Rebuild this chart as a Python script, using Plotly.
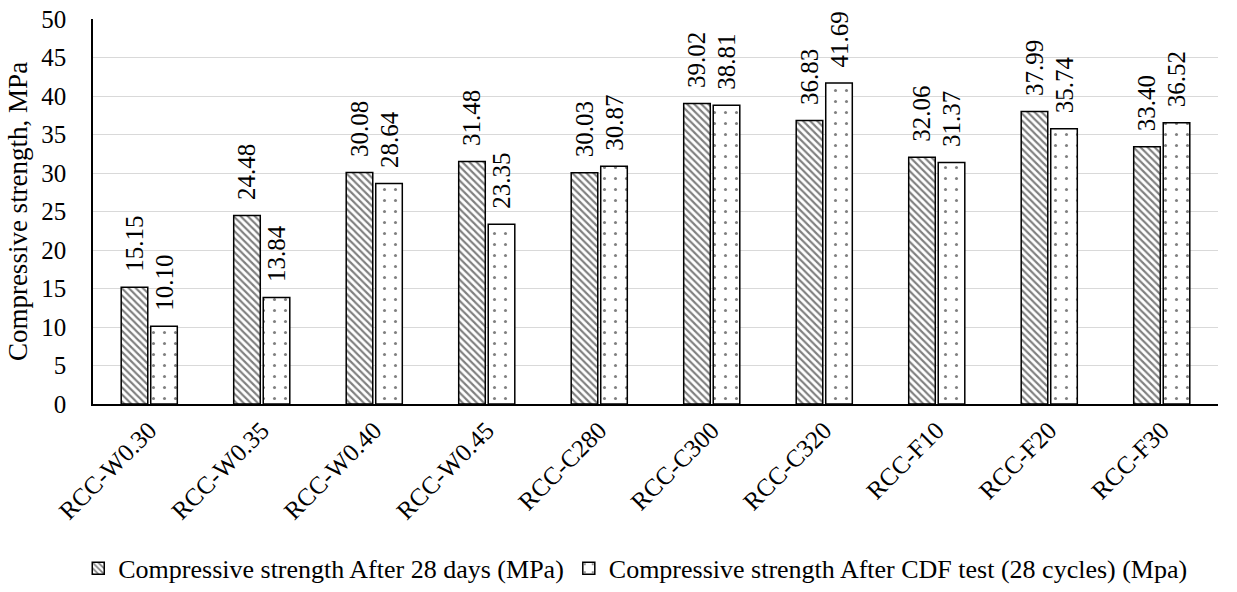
import plotly.graph_objects as go

categories = ["RCC-W0.30", "RCC-W0.35", "RCC-W0.40", "RCC-W0.45", "RCC-C280",
              "RCC-C300", "RCC-C320", "RCC-F10", "RCC-F20", "RCC-F30"]
after_28_days = [15.15, 24.48, 30.08, 31.48, 30.03, 39.02, 36.83, 32.06, 37.99, 33.40]
after_cdf = [10.10, 13.84, 28.64, 23.35, 30.87, 38.81, 41.69, 31.37, 35.74, 36.52]
y_ticks = list(range(0, 51, 5))

FONT = "Liberation Serif"
LABEL_PAD = "\u00a0\u00a0"  # small gap between bar top and its value label


def labels(values):
    return [LABEL_PAD + f"{v:.2f}" for v in values]


fig = go.Figure()
fig.add_trace(go.Bar(
    x=categories, y=after_28_days,
    name="Compressive strength After 28 days (MPa)",
    marker=dict(color="white", line=dict(color="black", width=1.5),
                pattern=dict(shape="\\", fgcolor="black", bgcolor="white", size=5, solidity=0.42)),
    text=labels(after_28_days), textposition="outside", textangle=-90, constraintext="none",
    textfont=dict(family=FONT, size=25, color="black"), cliponaxis=False,
))
fig.add_trace(go.Bar(
    x=categories, y=after_cdf,
    name="Compressive strength After CDF test (28 cycles) (Mpa)",
    marker=dict(color="white", line=dict(color="black", width=1.5),
                pattern=dict(shape=".", fgcolor="black", bgcolor="white", size=11, solidity=0.06)),
    text=labels(after_cdf), textposition="outside", textangle=-90, constraintext="none",
    textfont=dict(family=FONT, size=25, color="black"), cliponaxis=False,
))

fig.update_layout(
    width=1237, height=592,
    margin=dict(l=93, r=19, t=19, b=188, autoexpand=False),
    paper_bgcolor="white", plot_bgcolor="white",
    font=dict(family=FONT, size=25, color="black"),
    barmode="group", bargap=0.475, bargroupgap=0.1,
    showlegend=True,
    legend=dict(orientation="h", xref="paper", x=0.482, xanchor="center",
                yref="container", y=0.04, yanchor="middle",
                font=dict(family=FONT, size=26, color="black"), itemwidth=30, traceorder="normal",
                tracegroupgap=0),
    uniformtext=dict(mode=False),
)
fig.update_xaxes(tickangle=-45, showline=True, linecolor="black", linewidth=1.5,
                 tickfont=dict(family=FONT, size=25, color="black"), ticks="", automargin=False)
fig.update_yaxes(range=[0, 50], tickvals=y_ticks, showgrid=True, gridcolor="#d9d9d9", gridwidth=1.2,
                 showline=True, linecolor="black", linewidth=1.5, ticks="", ticklabelstandoff=20,
                 zeroline=False, automargin=False,
                 title=dict(text="Compressive strength, MPa", font=dict(family=FONT, size=27, color="black"),
                            standoff=6),
                 tickfont=dict(family=FONT, size=25, color="black"))

fig.write_html("out.html")
